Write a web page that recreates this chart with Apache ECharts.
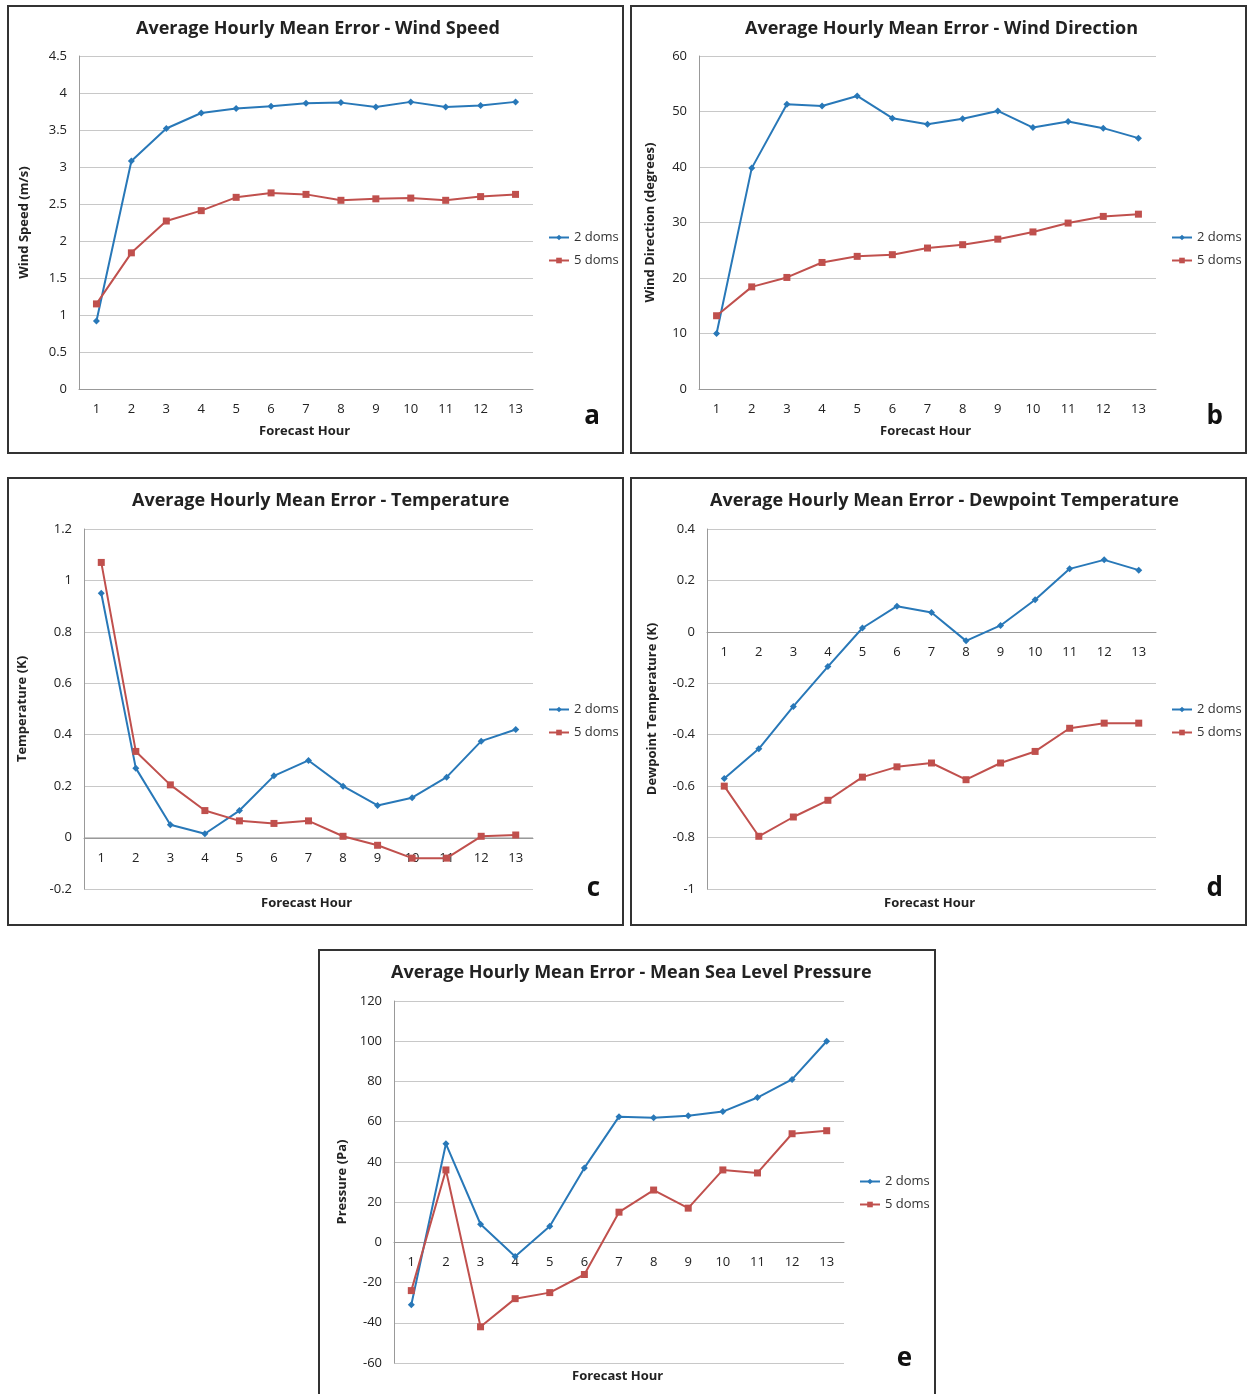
<!DOCTYPE html>
<html><head><meta charset="utf-8">
<script src="https://cdn.jsdelivr.net/npm/echarts@6/dist/echarts.min.js"></script>
<style>
body{margin:0;background:#fff;width:1247px;height:1394px;position:relative;overflow:hidden}
.p{position:absolute;border:2px solid #333;box-sizing:border-box;background:#fff}
</style></head><body>
<div class="p" id="a" style="left:7px;top:5px;width:617px;height:449px"></div>
<div class="p" id="b" style="left:630px;top:5px;width:617px;height:449px"></div>
<div class="p" id="c" style="left:7px;top:477px;width:617px;height:449px"></div>
<div class="p" id="d" style="left:630px;top:477px;width:617px;height:449px"></div>
<div class="p" id="e" style="left:318px;top:949px;width:618px;height:447px"></div>
<script>
var hours = ['1','2','3','4','5','6','7','8','9','10','11','12','13'];
var speed2 = [0.92,3.08,3.52,3.73,3.79,3.82,3.86,3.87,3.81,3.88,3.81,3.83,3.88];
var speed5 = [1.15,1.84,2.27,2.41,2.59,2.65,2.63,2.55,2.57,2.58,2.55,2.6,2.63];
var dir2 = [10,39.8,51.3,51,52.8,48.8,47.7,48.7,50.1,47.1,48.2,47,45.2];
var dir5 = [13.2,18.4,20.1,22.8,23.9,24.2,25.4,26,27,28.3,29.9,31.1,31.5];
var temp2 = [0.95,0.27,0.05,0.015,0.105,0.24,0.3,0.2,0.125,0.155,0.235,0.375,0.42];
var temp5 = [1.07,0.335,0.205,0.105,0.065,0.055,0.065,0.005,-0.03,-0.08,-0.08,0.005,0.01];
var dew2 = [-0.57,-0.455,-0.29,-0.135,0.015,0.1,0.075,-0.035,0.025,0.125,0.245,0.28,0.24];
var dew5 = [-0.6,-0.795,-0.72,-0.655,-0.565,-0.525,-0.51,-0.575,-0.51,-0.465,-0.375,-0.355,-0.355];
var pres2 = [-31,49,9,-7,8,37,62.5,62,63,65,72,81,100];
var pres5 = [-24,36,-42,-28,-25,-16,15,26,17,36,34.5,54,55.5];

var font = '"Open Sans", "DejaVu Sans", sans-serif';

function panel(id, title, yName, min, max, step, s2, s5, letter, g) {
  var el = document.getElementById(id);
  var chart = echarts.init(el);
  // put the category axis on the zero line
  var plotH = el.clientHeight - g.top - g.bottom;
  var zeroOffset = min < 0 ? -Math.round(plotH * (-min) / (max - min)) : 0;
  chart.setOption({
    animation: false,
    textStyle: {fontFamily: font},
    title: {text: title, left: g.tl, top: 8, textStyle: {fontSize: 18, fontWeight: 'bold', color: '#222', fontFamily: font}},
    legend: {orient: 'vertical', left: 534, top: 219, itemWidth: 20, itemHeight: 7, itemGap: 10,
      textStyle: {fontSize: 13, color: '#333'}, data: ['2 doms', '5 doms']},
    graphic: [
      {type: 'text', right: 22, bottom: 22, style: {text: letter, fontSize: 26, fontWeight: 'bold', fill: '#111', fontFamily: font}},
      {type: 'text', left: g.xn, top: g.xt, style: {text: 'Forecast Hour', fontSize: 13, fontWeight: 'bold', fill: '#222', fontFamily: font}}
    ],
    grid: {left: g.left, right: g.right, top: g.top, bottom: g.bottom, outerBoundsMode: 'none'},
    xAxis: {type: 'category', data: hours, offset: zeroOffset,
      axisLine: {onZero: false, lineStyle: {color: '#999'}}, axisTick: {lineStyle: {color: '#999'}},
      axisLabel: {fontSize: 13, color: '#222', margin: 14}},
    yAxis: {type: 'value', min: min, max: max, interval: step, name: yName, nameLocation: 'middle', nameGap: g.yg,
      nameTextStyle: {fontSize: 13, fontWeight: 'bold', color: '#222'},
      axisLine: {show: true, lineStyle: {color: '#999'}}, axisTick: {show: false},
      axisLabel: {fontSize: 13, color: '#222', margin: 12}, splitLine: {lineStyle: {color: '#c8c8c8'}}},
    series: [
      {name: '2 doms', type: 'line', data: s2, symbol: 'diamond', symbolSize: 7, color: '#2878b8', lineStyle: {width: 2}},
      {name: '5 doms', type: 'line', data: s5, symbol: 'rect', symbolSize: 7, color: '#c0504d', lineStyle: {width: 2}}
    ]
  });
}

panel('a', 'Average Hourly Mean Error - Wind Speed', 'Wind Speed (m/s)', 0, 4.5, 0.5, speed2, speed5, 'a',
  {left: 70, right: 89, top: 49, bottom: 63, yg: 48, tl: 122, xn: 250, xt: 418});
panel('b', 'Average Hourly Mean Error - Wind Direction', 'Wind Direction (degrees)', 0, 60, 10, dir2, dir5, 'b',
  {left: 67, right: 89, top: 49, bottom: 63, yg: 42, tl: 108, xn: 248, xt: 418});
panel('c', 'Average Hourly Mean Error - Temperature', 'Temperature (K)', -0.2, 1.2, 0.2, temp2, temp5, 'c',
  {left: 75, right: 89, top: 50, bottom: 35, yg: 55, tl: 118, xn: 252, xt: 418});
panel('d', 'Average Hourly Mean Error - Dewpoint Temperature', 'Dewpoint Temperature (K)', -1, 0.4, 0.2, dew2, dew5, 'd',
  {left: 75, right: 89, top: 50, bottom: 35, yg: 48, tl: 73, xn: 252, xt: 418});
panel('e', 'Average Hourly Mean Error - Mean Sea Level Pressure', 'Pressure (Pa)', -60, 120, 20, pres2, pres5, 'e',
  {left: 74, right: 90, top: 50, bottom: 31, yg: 44, tl: 66, xn: 252, xt: 419});
</script>
</body></html>
